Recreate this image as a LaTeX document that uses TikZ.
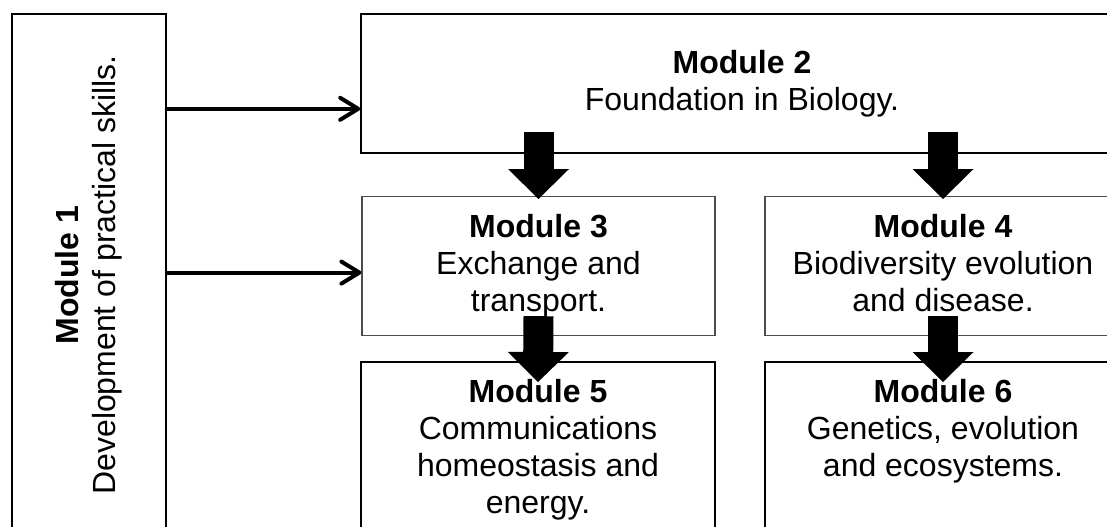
\documentclass[tikz,border=0pt]{standalone}
\usepackage{fontspec}
\setmainfont{Liberation Sans}
\usetikzlibrary{arrows.meta,calc}

\newcommand{\lines}[1]{\begin{tabular}[t]{@{}c@{}}#1\end{tabular}}

\begin{document}
\begin{tikzpicture}[x=0.5pt, y=-0.5pt, font=\fontsize{16}{18.4}\selectfont,
	box/.style={draw, line width=0.8pt, align=center, inner sep=0pt},
	thinbox/.style={box, draw=black!70, line width=0.6pt},
	topbox/.style={anchor=north, text height=20.5pt, text depth=#1},
	feed/.style={line width=2pt, -{Straight Barb[length=9pt,width=11pt,round]}},
	block/.style={line width=15pt, -{Triangle[length=15pt,width=30.5pt,line width=0pt]}}]
	\clip (0,0) rectangle (1107,526);
	% boxes
	\node[box, rotate=90, minimum width=261pt, minimum height=77pt] (m1) at (89,275) {\textbf{Module 1}\\Development of practical skills.};
	\node[box, minimum width=381pt, minimum height=69.5pt] (m2) at (742,83.5) {\textbf{Module 2}\\Foundation in Biology.};
	\node[thinbox, topbox=49pt, minimum width=176.5pt] (m3) at (538.5,196) {\lines{\textbf{Module 3}\\Exchange and\\transport.}};
	\node[thinbox, topbox=49pt, minimum width=178pt] (m4) at (943,196) {\lines{\textbf{Module 4}\\Biodiversity evolution\\and disease.}};
	\node[box, topbox=67.5pt, minimum width=177pt] (m5) at (538,361) {\lines{\textbf{Module 5}\\Communications\\homeostasis and\\energy.}};
	\node[box, topbox=67.5pt, minimum width=178pt] (m6) at (943,361) {\lines{\textbf{Module 6}\\Genetics, evolution\\and ecosystems.}};
	% arrows from module 1
	\coordinate (c2) at ($(m2.south west)+(0,-45)$);
	\coordinate (c3) at ($(m3.west)+(0,6.5)$);
	\draw[feed] (m1.south |- c2) -- (c2);
	\draw[feed] (m1.south |- c3) -- (c3);
	% block arrows
	\draw[block] ($(m3.north |- m2.south)+(0,-22)$) -- ($(m3.north)+(0,3)$);
	\draw[block] ($(m4.north |- m2.south)+(0,-22)$) -- ($(m4.north)+(0,3)$);
	\draw[block] ($(m3.south)+(0,-20)$) -- ($(m5.north)+(0,21)$);
	\draw[block] ($(m4.south)+(0,-20)$) -- ($(m6.north)+(0,21)$);
\end{tikzpicture}
\end{document}
